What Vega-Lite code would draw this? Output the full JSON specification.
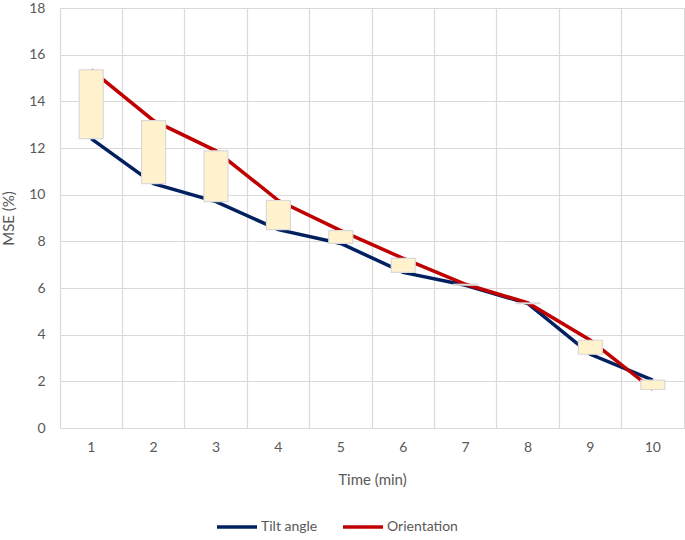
{
  "$schema": "https://vega.github.io/schema/vega-lite/v6.json",
  "autosize": "none",
  "width": 624,
  "height": 420,
  "padding": {"left": 60, "top": 8, "right": 1, "bottom": 112},
  "background": "white",
  "config": {
    "font": "Lato",
    "view": {"stroke": "#D9D9D9", "strokeWidth": 1},
    "axis": {
      "labelColor": "#595959",
      "titleColor": "#595959",
      "labelFontSize": 14,
      "titleFontSize": 15,
      "titleFontWeight": "normal",
      "gridColor": "#D9D9D9",
      "gridWidth": 1.2,
      "domain": false,
      "ticks": false
    }
  },
  "data": {
    "values": [
      {"t": 1, "tilt": 12.4, "orient": 15.35},
      {"t": 2, "tilt": 10.47, "orient": 13.17},
      {"t": 3, "tilt": 9.7, "orient": 11.88},
      {"t": 4, "tilt": 8.5, "orient": 9.75},
      {"t": 5, "tilt": 7.91, "orient": 8.46},
      {"t": 6, "tilt": 6.67, "orient": 7.27},
      {"t": 7, "tilt": 6.12, "orient": 6.16},
      {"t": 8, "tilt": 5.33, "orient": 5.36},
      {"t": 9, "tilt": 3.16, "orient": 3.76},
      {"t": 10, "tilt": 2.05, "orient": 1.65}
    ]
  },
  "layer": [
    {
      "transform": [{"fold": ["tilt", "orient"], "as": ["series", "value"]},
                    {"calculate": "datum.series == 'tilt' ? 'Tilt angle' : 'Orientation'", "as": "name"}],
      "mark": {"type": "line", "strokeWidth": 3.5},
      "encoding": {
        "x": {"field": "t", "type": "ordinal", "scale": {"paddingInner": 0, "paddingOuter": 0},
              "axis": {"labelAngle": 0, "bandPosition": 0, "labelPadding": 12, "title": "Time (min)", "titlePadding": 18, "grid": true}},
        "y": {"field": "value", "type": "quantitative", "scale": {"domain": [0, 18]},
              "axis": {"values": [0, 2, 4, 6, 8, 10, 12, 14, 16, 18], "labelPadding": 15, "title": "MSE (%)", "titlePadding": 12}},
        "color": {"field": "name", "type": "nominal",
                  "scale": {"domain": ["Tilt angle", "Orientation"], "range": ["#002060", "#C00000"]},
                  "legend": {"title": null, "orient": "none", "direction": "horizontal", "legendX": 155, "legendY": 497,
                             "symbolType": "stroke", "symbolStrokeWidth": 3.5, "symbolSize": 1600,
                             "labelFontSize": 14, "labelColor": "#595959", "columnPadding": 18, "labelOffset": 2}}
      }
    },
    {
      "mark": {"type": "bar", "width": 24, "fill": "#FFF2CC", "stroke": "#D9D9D9", "strokeWidth": 1.2},
      "encoding": {
        "x": {"field": "t", "type": "ordinal"},
        "y": {"field": "tilt", "type": "quantitative"},
        "y2": {"field": "orient"}
      }
    }
  ]
}
